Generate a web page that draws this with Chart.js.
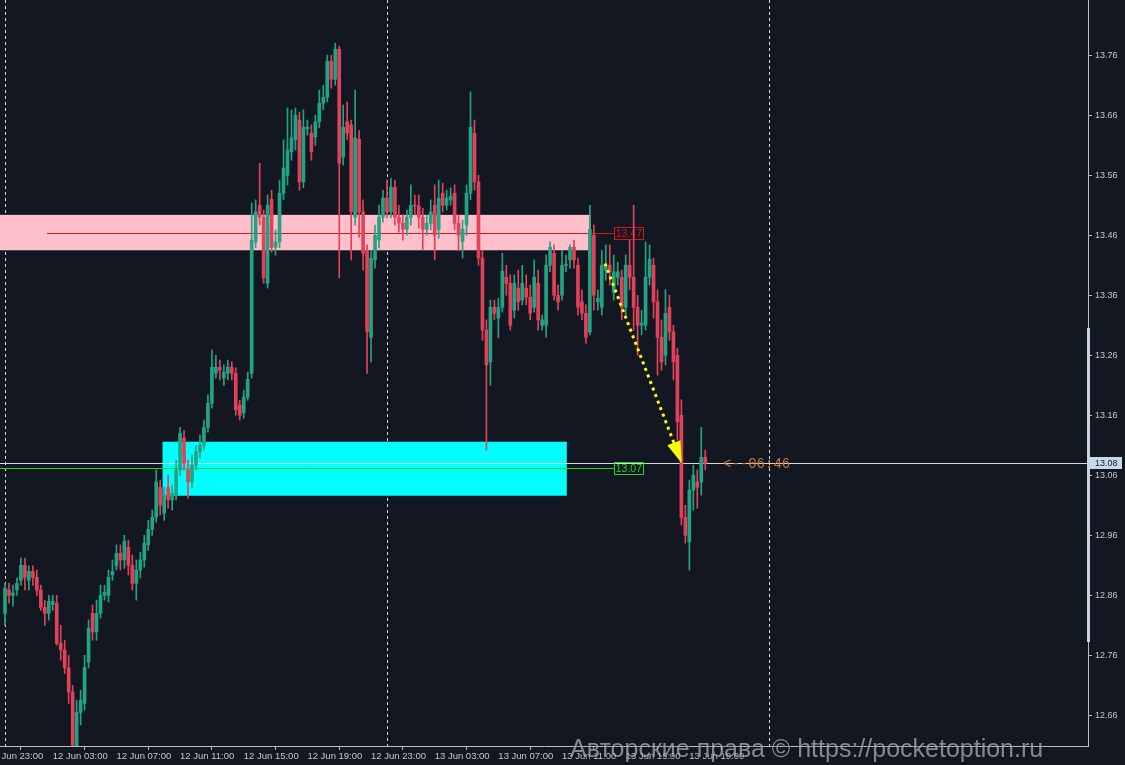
<!DOCTYPE html>
<html>
<head>
<meta charset="utf-8">
<script src="https://cdn.jsdelivr.net/npm/chart.js@4.4.1/dist/chart.umd.min.js"></script>
<style>
  html, body { margin: 0; padding: 0; background: #131722; }
</style>
</head>
<body>
<canvas id="chart" width="1125" height="765"></canvas>
<script>
// M15 candles, 12 Jun 00:00 .. 13 Jun 19:00 (index 0 = 12 Jun 00:00)
const openP = [
  12.831, 12.870, 12.861, 12.870, 12.886, 12.911, 12.886, 12.901, 12.891, 12.870,
  12.841, 12.831, 12.846, 12.848, 12.781, 12.770, 12.740, 12.700, 12.606, 12.666,
  12.681, 12.750, 12.831, 12.800, 12.831, 12.861, 12.861, 12.895, 12.910, 12.931,
  12.920, 12.941, 12.911, 12.881, 12.903, 12.920, 12.945, 12.971, 12.991, 13.041,
  12.998, 13.041, 13.020, 13.028, 13.070, 13.123, 13.070, 13.050, 13.078, 13.100,
  13.111, 13.141, 13.181, 13.231, 13.241, 13.223, 13.231, 13.241, 13.231, 13.178,
  13.165, 13.191, 13.231, 13.450, 13.511, 13.491, 13.381, 13.521, 13.441, 13.450,
  13.531, 13.561, 13.600, 13.620, 13.653, 13.550, 13.638, 13.631, 13.625, 13.650,
  13.681, 13.691, 13.751, 13.721, 13.771, 13.591, 13.650, 13.645, 13.491, 13.621,
  13.500, 13.436, 13.291, 13.420, 13.453, 13.491, 13.523, 13.500, 13.541, 13.491,
  13.481, 13.471, 13.491, 13.511, 13.510, 13.491, 13.471, 13.481, 13.511, 13.470,
  13.531, 13.511, 13.520, 13.531, 13.481, 13.450, 13.478, 13.531, 13.631, 13.550,
  13.423, 13.303, 13.250, 13.341, 13.323, 13.341, 13.391, 13.381, 13.336, 13.373,
  13.353, 13.373, 13.358, 13.341, 13.381, 13.311, 13.311, 13.411, 13.431, 13.361,
  13.361, 13.411, 13.420, 13.441, 13.411, 13.350, 13.331, 13.300, 13.461, 13.350,
  13.341, 13.403, 13.411, 13.366, 13.391, 13.391, 13.341, 13.411, 13.391, 13.341,
  13.311, 13.311, 13.391, 13.411, 13.350, 13.291, 13.261, 13.341, 13.300, 13.261,
  13.161, 12.991, 12.950, 13.036, 13.050, 13.050, 13.091
];
const highP = [
  12.881, 12.881, 12.878, 12.890, 12.923, 12.923, 12.910, 12.910, 12.903, 12.878,
  12.853, 12.861, 12.861, 12.861, 12.811, 12.786, 12.761, 12.711, 12.686, 12.703,
  12.761, 12.820, 12.845, 12.853, 12.878, 12.878, 12.903, 12.920, 12.945, 12.945,
  12.961, 12.953, 12.928, 12.920, 12.933, 12.961, 12.986, 13.003, 13.070, 13.053,
  13.041, 13.061, 13.045, 13.086, 13.141, 13.136, 13.086, 13.095, 13.111, 13.128,
  13.153, 13.195, 13.270, 13.261, 13.253, 13.245, 13.253, 13.250, 13.240, 13.186,
  13.203, 13.233, 13.515, 13.520, 13.581, 13.503, 13.528, 13.536, 13.470, 13.553,
  13.620, 13.673, 13.670, 13.673, 13.666, 13.670, 13.653, 13.645, 13.661, 13.703,
  13.711, 13.761, 13.761, 13.781, 13.776, 13.678, 13.683, 13.653, 13.703, 13.636,
  13.520, 13.445, 13.436, 13.478, 13.511, 13.536, 13.553, 13.556, 13.553, 13.511,
  13.495, 13.503, 13.545, 13.528, 13.528, 13.506, 13.495, 13.520, 13.545, 13.553,
  13.548, 13.536, 13.540, 13.545, 13.495, 13.486, 13.545, 13.700, 13.653, 13.561,
  13.436, 13.320, 13.353, 13.353, 13.356, 13.431, 13.411, 13.395, 13.395, 13.403,
  13.411, 13.395, 13.378, 13.420, 13.403, 13.328, 13.428, 13.450, 13.445, 13.378,
  13.436, 13.428, 13.445, 13.453, 13.423, 13.370, 13.345, 13.511, 13.478, 13.370,
  13.436, 13.445, 13.445, 13.428, 13.416, 13.403, 13.428, 13.453, 13.511, 13.361,
  13.336, 13.450, 13.445, 13.423, 13.370, 13.320, 13.370, 13.361, 13.311, 13.273,
  13.187, 13.011, 13.053, 13.078, 13.070, 13.141, 13.103
];
const lowP = [
  12.811, 12.848, 12.843, 12.861, 12.878, 12.870, 12.870, 12.878, 12.861, 12.836,
  12.811, 12.820, 12.836, 12.778, 12.753, 12.731, 12.681, 12.570, 12.578, 12.645,
  12.670, 12.740, 12.786, 12.786, 12.823, 12.853, 12.850, 12.886, 12.903, 12.903,
  12.906, 12.895, 12.870, 12.853, 12.890, 12.908, 12.936, 12.961, 12.983, 12.995,
  12.986, 13.006, 13.003, 13.020, 13.061, 13.070, 13.023, 13.040, 13.070, 13.090,
  13.103, 13.133, 13.173, 13.223, 13.220, 13.211, 13.220, 13.220, 13.161, 13.153,
  13.156, 13.186, 13.223, 13.440, 13.478, 13.381, 13.373, 13.433, 13.428, 13.440,
  13.520, 13.545, 13.586, 13.603, 13.536, 13.540, 13.628, 13.586, 13.611, 13.640,
  13.670, 13.683, 13.706, 13.711, 13.390, 13.578, 13.620, 13.420, 13.478, 13.458,
  13.403, 13.231, 13.250, 13.406, 13.440, 13.483, 13.490, 13.490, 13.478, 13.466,
  13.453, 13.461, 13.478, 13.495, 13.473, 13.436, 13.461, 13.470, 13.420, 13.456,
  13.500, 13.503, 13.511, 13.470, 13.436, 13.423, 13.461, 13.520, 13.536, 13.411,
  13.286, 13.103, 13.211, 13.320, 13.290, 13.333, 13.361, 13.303, 13.323, 13.336,
  13.345, 13.345, 13.320, 13.333, 13.303, 13.303, 13.291, 13.400, 13.353, 13.336,
  13.353, 13.400, 13.406, 13.406, 13.328, 13.320, 13.281, 13.295, 13.336, 13.336,
  13.328, 13.386, 13.378, 13.353, 13.378, 13.320, 13.328, 13.370, 13.303, 13.261,
  13.295, 13.303, 13.378, 13.323, 13.228, 13.236, 13.245, 13.286, 13.220, 13.120,
  12.978, 12.948, 12.903, 13.003, 13.006, 13.028, 13.070
];
const closeP = [
  12.873, 12.861, 12.865, 12.881, 12.911, 12.891, 12.901, 12.891, 12.870, 12.841,
  12.831, 12.851, 12.851, 12.781, 12.770, 12.740, 12.700, 12.611, 12.666, 12.686,
  12.741, 12.806, 12.800, 12.831, 12.861, 12.866, 12.891, 12.901, 12.931, 12.920,
  12.951, 12.911, 12.881, 12.903, 12.920, 12.948, 12.971, 12.991, 13.050, 13.011,
  13.028, 13.020, 13.031, 13.070, 13.131, 13.081, 13.050, 13.078, 13.100, 13.111,
  13.141, 13.181, 13.241, 13.241, 13.236, 13.233, 13.241, 13.231, 13.170, 13.161,
  13.191, 13.221, 13.453, 13.500, 13.491, 13.390, 13.511, 13.441, 13.450, 13.531,
  13.573, 13.603, 13.623, 13.661, 13.550, 13.641, 13.641, 13.600, 13.650, 13.681,
  13.691, 13.751, 13.721, 13.771, 13.581, 13.641, 13.631, 13.500, 13.623, 13.500,
  13.431, 13.300, 13.423, 13.461, 13.491, 13.523, 13.500, 13.541, 13.491, 13.481,
  13.471, 13.491, 13.511, 13.510, 13.491, 13.471, 13.481, 13.500, 13.461, 13.523,
  13.511, 13.523, 13.526, 13.481, 13.461, 13.471, 13.531, 13.641, 13.550, 13.423,
  13.303, 13.245, 13.341, 13.331, 13.341, 13.401, 13.381, 13.311, 13.381, 13.350,
  13.381, 13.358, 13.331, 13.391, 13.320, 13.320, 13.411, 13.441, 13.361, 13.350,
  13.411, 13.413, 13.441, 13.420, 13.341, 13.331, 13.291, 13.471, 13.361, 13.356,
  13.411, 13.411, 13.400, 13.400, 13.400, 13.341, 13.411, 13.391, 13.341, 13.311,
  13.315, 13.391, 13.421, 13.350, 13.291, 13.250, 13.331, 13.300, 13.250, 13.150,
  12.991, 12.961, 13.036, 13.061, 13.041, 13.091, 13.081
];

// time axis labels (bar index of each label)
const timeTickIdx = [-4, 12, 28, 44, 60, 76, 92, 108, 124, 140, 156, 172];
const timeTickText = ['11 Jun 23:00', '12 Jun 03:00', '12 Jun 07:00', '12 Jun 11:00', '12 Jun 15:00', '12 Jun 19:00',
  '12 Jun 23:00', '13 Jun 03:00', '13 Jun 07:00', '13 Jun 11:00', '13 Jun 15:00', '13 Jun 19:00'];
const priceTicks = [12.66, 12.76, 12.86, 12.96, 13.06, 13.16, 13.26, 13.36, 13.46, 13.56, 13.66, 13.76];
const daySeparators = [0, 96, 192];

// zones and levels
const resZone = [13.436, 13.495];       // pink box
const resZoneBars = [-5, 147.2];
const resLevel = 13.465, resLabel = '13.47', resLineBars = [10.6, 153];
const supZone = [13.027, 13.117];       // cyan box
const supZoneBars = [39.6, 141.2];
const supLevel = 13.073, supLabel = '13.07', supLineBars = [-5, 153];
const arrowFrom = [150.8, 13.414], arrowTo = [170.1, 13.081];
const countdown = '<--06:46';

const UP = '#23a384', DOWN = '#e0425a';
const AXIS = '#b9bdc4';
const FONT = '"Liberation Sans", Arial, sans-serif';

const idx = closeP.map((_, i) => i);
const candleColors = idx.map(i => closeP[i] >= openP[i] ? UP : DOWN);

// no automatic label padding: the plot runs to the canvas edges like the terminal
const noPad = s => { s.paddingLeft = 0; s.paddingRight = 0; s.paddingTop = 0; s.paddingBottom = 0; };

const overlay = {
  id: 'overlay',
  beforeDatasetsDraw(chart) {
    const {ctx, chartArea: a, scales: {x, y}} = chart;
    ctx.save();
    ctx.beginPath();
    ctx.rect(a.left, a.top, a.right - a.left, a.bottom - a.top);
    ctx.clip();
    // period separators
    ctx.strokeStyle = '#dcdcdc';
    ctx.lineWidth = 1;
    ctx.setLineDash([3, 3]);
    daySeparators.forEach(d => {
      const px = Math.round(x.getPixelForValue(d)) + 0.5;
      ctx.beginPath(); ctx.moveTo(px, a.top); ctx.lineTo(px, a.bottom); ctx.stroke();
    });
    ctx.setLineDash([]);
    // zones
    ctx.fillStyle = '#ffc0cb';
    ctx.fillRect(x.getPixelForValue(resZoneBars[0]), y.getPixelForValue(resZone[1]),
      x.getPixelForValue(resZoneBars[1]) - x.getPixelForValue(resZoneBars[0]),
      y.getPixelForValue(resZone[0]) - y.getPixelForValue(resZone[1]));
    ctx.fillStyle = '#00ffff';
    ctx.fillRect(x.getPixelForValue(supZoneBars[0]), y.getPixelForValue(supZone[1]),
      x.getPixelForValue(supZoneBars[1]) - x.getPixelForValue(supZoneBars[0]),
      y.getPixelForValue(supZone[0]) - y.getPixelForValue(supZone[1]));
    // bid line
    const bid = closeP[closeP.length - 1];
    const by = Math.round(y.getPixelForValue(bid)) + 0.5;
    ctx.strokeStyle = '#d8d8d8';
    ctx.beginPath(); ctx.moveTo(a.left, by); ctx.lineTo(a.right, by); ctx.stroke();
    // levels with price boxes
    const level = (v, bars, txt, col) => {
      const ly = Math.round(y.getPixelForValue(v)) + 0.5;
      const x1 = x.getPixelForValue(bars[1]);
      ctx.strokeStyle = col;
      ctx.beginPath(); ctx.moveTo(x.getPixelForValue(bars[0]), ly); ctx.lineTo(x1, ly); ctx.stroke();
      ctx.strokeRect(Math.round(x1) + 0.5, ly - 6, 29, 12);
      ctx.fillStyle = col;
      ctx.font = '10.5px ' + FONT;
      ctx.textAlign = 'left';
      ctx.textBaseline = 'middle';
      ctx.fillText(txt, x1 + 2, ly + 0.5);
    };
    level(resLevel, resLineBars, resLabel, '#d01818');
    level(supLevel, supLineBars, supLabel, '#22d322');
    ctx.restore();
  },
  afterDatasetsDraw(chart) {
    const {ctx, scales: {x, y}} = chart;
    const x0 = x.getPixelForValue(arrowFrom[0]), y0 = y.getPixelForValue(arrowFrom[1]);
    const x1 = x.getPixelForValue(arrowTo[0]), y1 = y.getPixelForValue(arrowTo[1]);
    const ang = Math.atan2(y1 - y0, x1 - x0);
    const head = 22, half = 7;
    const bx = x1 - head * Math.cos(ang), byy = y1 - head * Math.sin(ang);
    ctx.save();
    ctx.strokeStyle = '#ffff00';
    ctx.lineWidth = 3;
    ctx.setLineDash([3, 4]);
    ctx.beginPath(); ctx.moveTo(x0, y0); ctx.lineTo(bx, byy); ctx.stroke();
    ctx.setLineDash([]);
    ctx.fillStyle = '#ffff00';
    ctx.beginPath();
    ctx.moveTo(x1, y1);
    ctx.lineTo(bx + half * Math.sin(ang), byy - half * Math.cos(ang));
    ctx.lineTo(bx - half * Math.sin(ang), byy + half * Math.cos(ang));
    ctx.closePath();
    ctx.fill();
    // countdown
    const by = y.getPixelForValue(closeP[closeP.length - 1]);
    ctx.fillStyle = '#c8783c';
    ctx.font = '14px "Liberation Mono", "DejaVu Sans Mono", monospace';
    ctx.textAlign = 'left';
    ctx.textBaseline = 'middle';
    ctx.fillText(countdown, 723, by + 1);
    ctx.restore();
  },
  afterDraw(chart) {
    const {ctx, chartArea: a, scales: {y}} = chart;
    ctx.save();
    // scroll marker on the price scale
    ctx.fillStyle = '#c3d3e0';
    ctx.fillRect(a.right - 1, 328, 3, 314);
    // bid price box
    const bid = closeP[closeP.length - 1];
    const by = Math.round(y.getPixelForValue(bid));
    ctx.fillStyle = '#c6dae8';
    ctx.fillRect(a.right, by - 6, 34, 12);
    ctx.fillStyle = '#131722';
    ctx.font = '9px ' + FONT;
    ctx.textAlign = 'left';
    ctx.textBaseline = 'middle';
    ctx.fillText(bid.toFixed(2), a.right + 7, by + 0.5);
    // watermark
    ctx.font = '25px ' + FONT;
    ctx.textBaseline = 'alphabetic';
    ctx.lineWidth = 2;
    ctx.strokeStyle = 'rgba(20,20,20,0.35)';
    ctx.strokeText('Авторские права © https://pocketoption.ru', 570, 757);
    ctx.fillStyle = 'rgba(205,205,205,0.62)';
    ctx.fillText('Авторские права © https://pocketoption.ru', 570, 757);
    ctx.restore();
  }
};

new Chart(document.getElementById('chart'), {
  type: 'bar',
  data: {
    datasets: [
      {
        label: 'body',
        data: idx.map(i => ({x: i, y: [openP[i], closeP[i]]})),
        backgroundColor: candleColors,
        barThickness: 3,
        minBarLength: 1,
        grouped: false,
        order: 0
      },
      {
        label: 'wick',
        data: idx.map(i => ({x: i, y: [lowP[i], highP[i]]})),
        backgroundColor: candleColors,
        barThickness: 1,
        grouped: false,
        order: 1
      }
    ]
  },
  options: {
    responsive: false,
    animation: false,
    devicePixelRatio: 1,
    layout: {padding: 0, autoPadding: false},
    plugins: {legend: {display: false}, tooltip: {enabled: false}},
    scales: {
      x: {
        type: 'linear',
        min: -1.26,
        max: 272.2,
        offset: false,
        border: {display: true, color: AXIS},
        grid: {drawOnChartArea: false, drawTicks: true, tickLength: 4, color: AXIS},
        ticks: {
          color: '#c4c7cc',
          font: {family: FONT, size: 9.5},
          align: 'start',
          padding: 1,
          maxRotation: 0,
          autoSkip: false,
          callback: v => {
            const k = timeTickIdx.indexOf(v);
            return k >= 0 ? timeTickText[k] : '';
          }
        },
        afterBuildTicks: s => { s.ticks = timeTickIdx.map(v => ({value: v})); },
        afterFit: s => { s.height = 19; noPad(s); }
      },
      y: {
        position: 'right',
        min: 12.61,
        max: 13.853,
        border: {display: true, color: AXIS},
        grid: {drawOnChartArea: false, drawTicks: true, tickLength: 4, color: AXIS},
        ticks: {
          color: '#c4c7cc',
          font: {family: FONT, size: 9},
          padding: 3,
          callback: v => v.toFixed(2)
        },
        afterBuildTicks: s => { s.ticks = priceTicks.map(v => ({value: v})); },
        afterFit: s => { s.width = 37; noPad(s); }
      }
    }
  },
  plugins: [overlay]
});
</script>
</body>
</html>
